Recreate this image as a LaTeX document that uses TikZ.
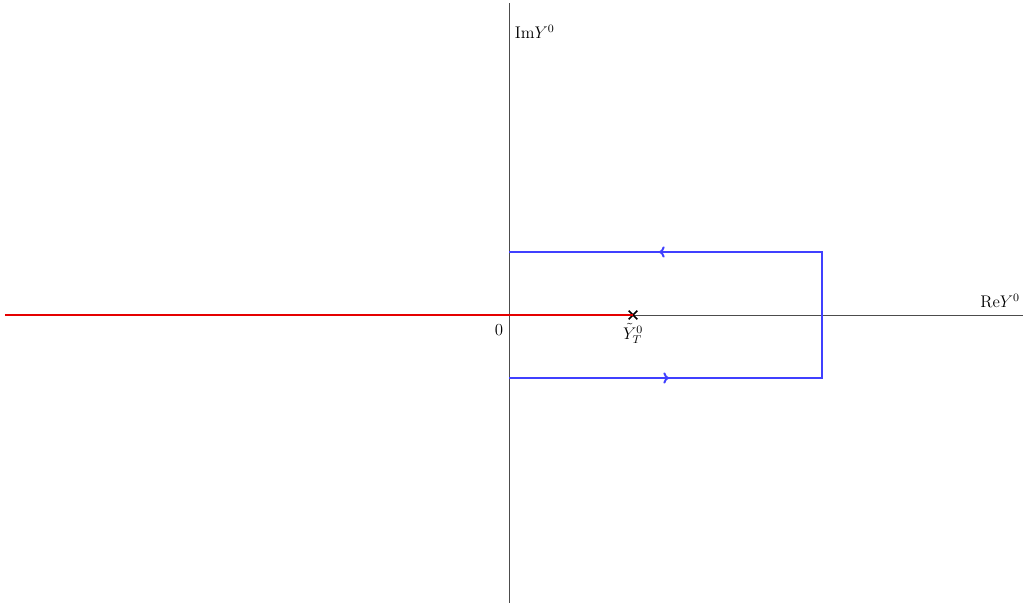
\documentclass[tikz,border=0pt]{standalone}
\usepackage{amsmath}
\usepackage{tikz}
\usetikzlibrary{arrows.meta, shapes.misc, positioning}

\begin{document}
\begin{tikzpicture}[
    node font=\large,
    axis/.style={draw=black!70, line width=0.5pt},
    cut/.style={draw=red!90!black, line width=0.9pt},
    contour/.style={draw=blue!75, line width=0.9pt},
    tip/.style={-{To[length=4pt,width=8pt,line width=1.4pt]}},
    marker/.style={cross out, draw=black, line width=1.1pt, minimum size=5pt, inner sep=0pt}
]
  \useasboundingbox (-12.725,-7.2) rectangle (12.85,7.875);

  % --- AXES ---
  \coordinate (O) at (0,0);
  \coordinate (xl) at (-12.6,0);
  \coordinate (xr) at (12.85,0);
  \coordinate (yb) at (0,-7.2);
  \coordinate (yt) at (0,7.8);
  \draw[axis] (xl) -- (xr);
  \draw[axis] (yb) -- (yt);
  \node[anchor=south east, inner sep=2pt] (relabel) at (0,0.1 -| xr) {$\mathrm{Re}Y^0$};
  \node[anchor=north west] (imlabel) at (0,7.4) {$\mathrm{Im}Y^0$};
  \node[anchor=north east] (zero) at (0,-0.1) {$0$};

  % --- BRANCH CUT ---
  \node[marker] (YT) at (3.1,0) {};
  \draw[cut] (xl) -- (YT.center);
  \node[below=2pt of YT, inner sep=1pt] (YTlabel) {$\tilde{Y}^0_T$};

  % --- CONTOUR ---
  \coordinate (b0) at (0,-1.575);
  \coordinate (b1) at (7.825,-1.575);
  \coordinate (t1) at (7.825,1.575);
  \coordinate (t0) at (0,1.575);
  \coordinate (bm) at (4.0,-1.575);
  \coordinate (tm) at (3.75,1.575);
  \draw[contour] (b0) -- (b1) -- (t1) -- (t0);
  \draw[contour, tip] (b0) -- (bm);
  \draw[contour, tip] (t1) -- (tm);

\end{tikzpicture}
\end{document}
